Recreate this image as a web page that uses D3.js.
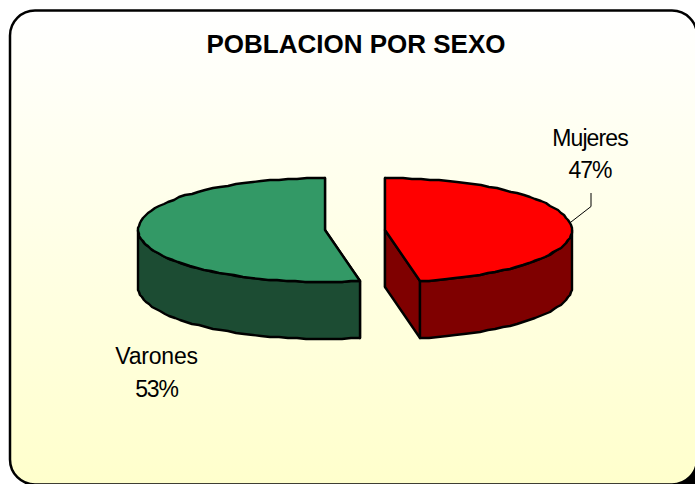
<!DOCTYPE html>
<html>
<head>
<meta charset="utf-8">
<title>POBLACION POR SEXO</title>
<script src="https://cdn.jsdelivr.net/npm/d3@7"></script>
<style>
  html, body { margin: 0; padding: 0; background: #fff; overflow: hidden; }
  svg { display: block; }
  text { font-family: "Liberation Sans", Arial, sans-serif; fill: #000; }
</style>
</head>
<body>
<div id="chart"></div>
<script>
const titleText = "POBLACION POR SEXO";
const categories = ["Mujeres", "Varones"];
const values = [47, 53];
const topColors = ["#ff0000", "#339966"];
const sideColors = ["#7f0000", "#1c4c33"];

let width = 695,
  height = 484,
  cx = 355,
  cy = 230,
  rx = 187,
  ry = 52,
  depth = 57,
  explode = 30;

let svg = d3
  .select("#chart")
  .append("svg")
  .attr("width", width)
  .attr("height", height);

// background panel

let grad = svg
  .append("defs")
  .append("linearGradient")
  .attr("id", "panelFill")
  .attr("x1", 0)
  .attr("y1", 0)
  .attr("x2", 0)
  .attr("y2", 1);
grad.append("stop").attr("offset", "0%").attr("stop-color", "#ffffff");
grad.append("stop").attr("offset", "100%").attr("stop-color", "#ffffcc");

svg
  .append("rect")
  .attr("x", 670)
  .attr("y", 460)
  .attr("width", 25)
  .attr("height", 24)
  .attr("fill", "#000");

svg
  .append("rect")
  .attr("x", 10)
  .attr("y", 10.5)
  .attr("width", 687)
  .attr("height", 474)
  .attr("rx", 25)
  .attr("ry", 25)
  .attr("fill", "url(#panelFill)")
  .attr("stroke", "#000")
  .attr("stroke-width", 2.5);

svg
  .append("text")
  .attr("x", 356)
  .attr("y", 53)
  .attr("text-anchor", "middle")
  .attr("font-size", 26)
  .attr("font-weight", "bold")
  .text(titleText);

// pie slices, 12 o'clock going clockwise

let slices = d3
  .pie()
  .sort(null)
  .startAngle(0)
  .endAngle(2 * Math.PI)(values);

let Xaxis = d3.scaleLinear().domain([-1, 1]).range([-rx, rx]),
  Yaxis = d3.scaleLinear().domain([-1, 1]).range([ry, -ry]),
  Line = d3
    .line()
    .x((d) => Math.round(d[0]))
    .y((d) => Math.round(d[1]));

let rimPoint = (center, a, dy) => [
  center + Xaxis(Math.sin(a)),
  cy + Yaxis(Math.cos(a)) + dy,
];

let rim = (center, a0, a1, dy) => {
  var steps = Math.max(1, Math.ceil(Math.abs(a1 - a0) / 0.05)),
    pts = [];
  for (var i = 0; i <= steps; i++) {
    pts.push(rimPoint(center, a0 + ((a1 - a0) * i) / steps, dy));
  }
  return pts;
};

let pieG = svg
  .append("g")
  .attr("stroke", "#000")
  .attr("stroke-width", 2.4)
  .attr("stroke-linejoin", "round");

slices.forEach((d) => {
  var mid = (d.startAngle + d.endAngle) / 2,
    center = cx + explode * Math.sin(mid),
    side = sideColors[d.index];

  // cut walls
  [d.startAngle, d.endAngle].forEach((a) => {
    var p = rimPoint(center, a, 0),
      q = rimPoint(center, a, depth);
    pieG
      .append("path")
      .attr("d", Line([[center, cy], p, q, [center, cy + depth]]) + "Z")
      .attr("fill", side);
  });

  // outer wall, only the half facing the viewer
  var a0 = Math.max(d.startAngle, Math.PI / 2),
    a1 = Math.min(d.endAngle, (3 * Math.PI) / 2);
  pieG
    .append("path")
    .attr("d", Line(rim(center, a0, a1, 0).concat(rim(center, a1, a0, depth))) + "Z")
    .attr("fill", side);

  // top face
  pieG
    .append("path")
    .attr("d", Line([[center, cy]].concat(rim(center, d.startAngle, d.endAngle, 0))) + "Z")
    .attr("fill", topColors[d.index]);
});

// leader line and labels

let leader = [[571, 222], [591, 206.5], [591, 193]];
svg
  .append("path")
  .attr("d", d3.line()(leader))
  .attr("fill", "none")
  .attr("stroke", "#000")
  .attr("stroke-width", 1);

let labelPos = [
  { x: 590, y: 146, gap: 32, nameSpacing: -0.9, pctSpacing: -1 },
  { x: 156.5, y: 364, gap: 33, nameSpacing: -0.2, pctSpacing: -1.2 },
];

slices.forEach((d, i) => {
  var total = d3.sum(values),
    t = svg
      .append("text")
      .attr("text-anchor", "middle")
      .attr("font-size", 23);
  t.append("tspan")
    .attr("x", labelPos[i].x)
    .attr("y", labelPos[i].y)
    .attr("letter-spacing", labelPos[i].nameSpacing)
    .text(categories[i]);
  t.append("tspan")
    .attr("x", labelPos[i].x)
    .attr("y", labelPos[i].y + labelPos[i].gap)
    .attr("letter-spacing", labelPos[i].pctSpacing)
    .text(`${Math.round((100 * d.value) / total)}%`);
});
</script>
</body>
</html>
